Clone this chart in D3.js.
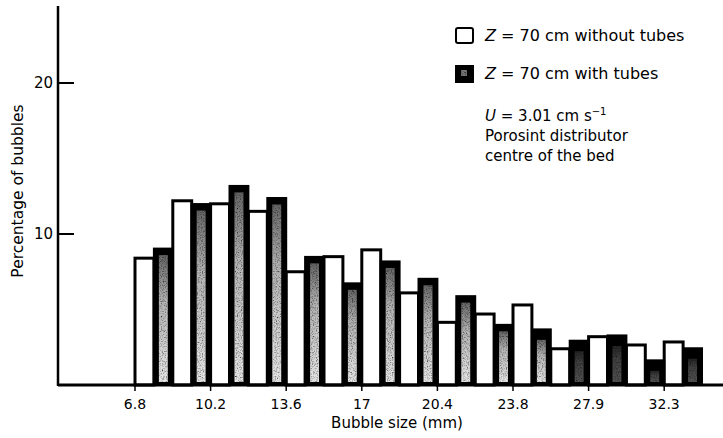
<!DOCTYPE html>
<html>
<head>
<meta charset="utf-8">
<script src="https://cdn.jsdelivr.net/npm/d3@7"></script>
<style>
  body { margin: 0; background: #fff; }
  svg { display: block; font-family: "DejaVu Sans", "Liberation Sans", sans-serif; }
</style>
</head>
<body>
<svg width="723" height="438"></svg>
<script>
// bins of bubble size, two bars per bin; labels on every second bin
const tickLabels = ["6.8", "10.2", "13.6", "17", "20.4", "23.8", "27.9", "32.3"];
const withoutTubes = [8.4, 12.2, 12.0, 11.5, 7.5, 8.5, 8.95, 6.1, 4.15, 4.7, 5.3, 2.4, 3.2, 2.65, 2.85];
const withTubes = [9.0, 11.95, 13.15, 12.35, 8.45, 6.7, 8.15, 7.0, 5.85, 3.95, 3.65, 2.9, 3.25, 1.6, 2.4];

let svg = d3.select("svg");

let x = d3.scaleLinear().domain([0, 15]).range([135, 702]);
let y = d3.scaleLinear().domain([0, 10, 20]).range([385, 234, 83]);

// patterns for the stippled bars
let defs = svg.append("defs");
let grad = defs.append("linearGradient")
  .attr("id", "shade")
  .attr("x1", 0).attr("y1", 0).attr("x2", 0).attr("y2", 1);
grad.append("stop").attr("offset", "0%").attr("stop-color", "#666");
grad.append("stop").attr("offset", "35%").attr("stop-color", "#b4b4b4");
grad.append("stop").attr("offset", "100%").attr("stop-color", "#e8e8e8");

let grain = defs.append("filter").attr("id", "grain")
  .attr("x", 0).attr("y", 0).attr("width", 1).attr("height", 1);
grain.append("feTurbulence")
  .attr("type", "fractalNoise")
  .attr("baseFrequency", 0.8)
  .attr("numOctaves", 2)
  .attr("seed", 4)
  .attr("result", "noise");
grain.append("feColorMatrix")
  .attr("in", "noise")
  .attr("type", "matrix")
  .attr("values", "0 0 0 0 0  0 0 0 0 0  0 0 0 0 0  -2.2 0 0 0 1.25")
  .attr("result", "dots");
grain.append("feComposite")
  .attr("in", "dots").attr("in2", "SourceGraphic").attr("operator", "in")
  .attr("result", "dots2");
let merge = grain.append("feMerge");
merge.append("feMergeNode").attr("in", "SourceGraphic");
merge.append("feMergeNode").attr("in", "dots2");

// bars
let bars = svg.append("g");

// white bars (without tubes)
bars.selectAll(".white")
  .data(withoutTubes)
  .enter().append("rect")
  .attr("class", "white")
  .attr("x", (d, i) => x(i))
  .attr("y", d => y(d))
  .attr("width", x(0.5) - x(0))
  .attr("height", d => y(0) - y(d))
  .attr("fill", "#fff")
  .attr("stroke", "#000")
  .attr("stroke-width", 3);

// dark stippled bars (with tubes)
let dark = bars.selectAll(".dark")
  .data(withTubes)
  .enter().append("g")
  .attr("class", "dark");
dark.append("rect")
  .attr("x", (d, i) => x(i + 0.5) - 1)
  .attr("y", d => y(d) - 1.5)
  .attr("width", x(0.5) - x(0) + 2)
  .attr("height", d => y(0) - y(d) + 1.5)
  .attr("fill", "#000");
dark.append("rect")
  .attr("x", (d, i) => x(i + 0.5) + 5)
  .attr("y", (d, i) => y(d) + 6 + (i > 9 ? 4 : 0))
  .attr("width", x(0.5) - x(0) - 10)
  .attr("height", (d, i) => Math.max(0, y(0) - y(d) - 9 - (i > 9 ? 4 : 0)))
  .attr("fill", "url(#shade)")
  .attr("opacity", (d, i) => i > 10 ? 0.35 : 1)
  .attr("filter", "url(#grain)");

// axes
let yAxis = svg.append("g").attr("transform", "translate(58,0)");
yAxis.append("line")
  .attr("x1", 0).attr("x2", 0)
  .attr("y1", 6).attr("y2", y(0) + 1)
  .attr("stroke", "#000").attr("stroke-width", 2.5);
yAxis.selectAll(".tick")
  .data([10, 20])
  .enter().append("line")
  .attr("x1", 0).attr("x2", 16)
  .attr("y1", d => y(d)).attr("y2", d => y(d))
  .attr("stroke", "#000").attr("stroke-width", 2);
yAxis.selectAll(".lbl")
  .data([10, 20])
  .enter().append("text")
  .attr("x", -5).attr("y", d => y(d))
  .attr("dy", "0.36em")
  .attr("text-anchor", "end")
  .attr("font-size", 15)
  .text(d => d);

let xAxis = svg.append("g");
xAxis.append("line")
  .attr("x1", 58).attr("x2", 723)
  .attr("y1", y(0)).attr("y2", y(0))
  .attr("stroke", "#000").attr("stroke-width", 3);
xAxis.selectAll(".tick")
  .data(tickLabels)
  .enter().append("line")
  .attr("x1", (d, i) => x(i * 2)).attr("x2", (d, i) => x(i * 2))
  .attr("y1", y(0)).attr("y2", y(0) + 6)
  .attr("stroke", "#000").attr("stroke-width", 1.5);
xAxis.selectAll(".lbl")
  .data(tickLabels)
  .enter().append("text")
  .attr("x", (d, i) => x(i * 2))
  .attr("y", 409)
  .attr("text-anchor", "middle")
  .attr("font-size", 14)
  .text(d => d);

svg.append("text")
  .attr("x", 397).attr("y", 428)
  .attr("text-anchor", "middle")
  .attr("font-size", 15)
  .text("Bubble size (mm)");

svg.append("text")
  .attr("transform", "translate(23,191) rotate(-90)")
  .attr("text-anchor", "middle")
  .attr("font-size", 15.5)
  .text("Percentage of bubbles");

// legend
let legend = svg.append("g");
legend.append("rect")
  .attr("x", 456).attr("y", 28).attr("width", 17).attr("height", 15)
  .attr("rx", 2)
  .attr("fill", "#fff").attr("stroke", "#000").attr("stroke-width", 2);
legend.append("rect")
  .attr("x", 455).attr("y", 65).attr("width", 19).attr("height", 18)
  .attr("fill", "#000");
legend.append("rect")
  .attr("x", 461).attr("y", 70).attr("width", 6).attr("height", 6)
  .attr("fill", "#777").attr("filter", "url(#grain)");

let rows = [
  {y: 41, parts: [["Z", true], [" = 70 cm without tubes", false]]},
  {y: 79, parts: [["Z", true], [" = 70 cm with tubes", false]]}
];
rows.forEach(r => {
  let t = legend.append("text").attr("x", 485).attr("y", r.y).attr("font-size", 16);
  r.parts.forEach(p => t.append("tspan").attr("font-style", p[1] ? "italic" : null).text(p[0]));
});

let note = legend.append("text").attr("x", 485).attr("y", 121).attr("font-size", 15);
note.append("tspan").attr("font-style", "italic").text("U");
note.append("tspan").text(" = 3.01 cm s");
note.append("tspan").attr("dy", -6).attr("font-size", 10).text("\u22121");
legend.append("text").attr("x", 485).attr("y", 141).attr("font-size", 15).text("Porosint distributor");
legend.append("text").attr("x", 485).attr("y", 161).attr("font-size", 15).text("centre of the bed");
</script>
</body>
</html>
